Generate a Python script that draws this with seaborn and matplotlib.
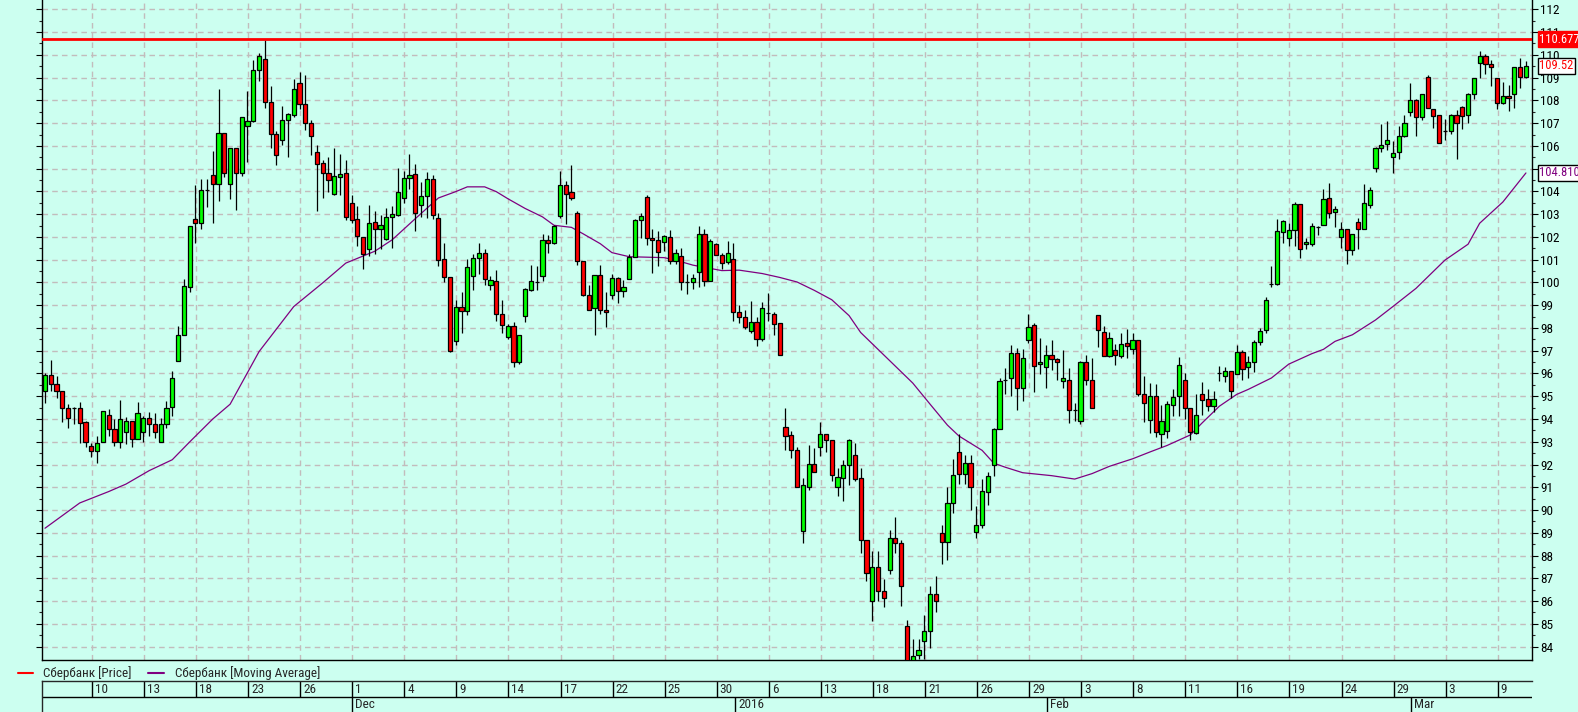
import matplotlib
matplotlib.use('Agg')
import matplotlib.pyplot as plt
import matplotlib.transforms as mtransforms
from matplotlib import font_manager
from matplotlib.lines import Line2D
import seaborn as sns
import numpy as np

# ---- data ----
opens = [95.24, 95.95, 95.54, 95.24, 94.50, 94.50, 94.47, 93.88, 92.80, 92.58,
         92.99, 94.19, 93.54, 92.99, 93.41, 93.91, 93.13, 93.41, 94.06, 93.80,
         92.99, 93.80, 94.54, 96.54, 97.70, 99.79, 102.77, 102.60, 104.05, 104.71,
         104.31, 106.56, 104.34, 105.90, 104.79, 106.86, 107.08, 109.32, 109.80, 107.95,
         106.54, 106.27, 107.12, 107.34, 108.75, 107.82, 107.02, 105.71, 105.25, 104.79,
         103.90, 104.62, 104.81, 103.47, 102.79, 102.01, 101.49, 102.64, 102.33, 101.90,
         102.86, 102.97, 103.70, 104.60, 104.77, 103.40, 103.81, 104.53, 102.83, 101.01,
         100.22, 97.44, 98.91, 98.76, 100.29, 101.09, 101.31, 99.87, 100.05, 98.61,
         97.59, 98.07, 96.50, 98.52, 99.68, 100.03, 100.27, 101.85, 101.72, 102.94,
         104.27, 103.96, 103.05, 100.92, 99.44, 98.89, 100.31, 98.81, 99.46, 100.18,
         99.61, 100.13, 101.13, 102.75, 103.75, 101.96, 101.85, 101.79, 102.01, 100.94,
         101.18, 100.03, 100.02, 100.48, 102.11, 100.07, 101.68, 101.20, 100.90, 101.01,
         98.68, 98.46, 97.87, 98.28, 97.50, 98.67, 98.63, 98.20, 93.64, 93.28,
         92.62, 89.10, 91.03, 92.01, 92.75, 93.32, 93.06, 90.99, 91.42, 91.99,
         92.43, 91.40, 88.68, 86.00, 87.51, 86.44, 87.38, 88.75, 88.57, 84.89,
         83.30, 83.65, 84.26, 84.67, 86.33, 88.97, 88.60, 90.31, 92.53, 91.60,
         92.06, 89.05, 89.33, 90.77, 91.97, 93.54, 95.72, 95.80, 96.91, 95.36,
         97.46, 98.11, 96.41, 96.28, 96.82, 96.63, 95.69, 95.72, 94.41, 93.89,
         96.50, 95.72, 98.55, 97.83, 96.78, 97.02, 96.78, 97.33, 97.06, 97.46,
         95.11, 93.97, 95.02, 93.36, 93.49, 94.62, 94.99, 95.71, 94.47, 93.40,
         95.11, 94.87, 94.56, 96.00, 95.91, 96.09, 95.98, 96.93, 96.28, 96.50,
         97.39, 97.89, 99.92, 99.92, 102.23, 101.96, 102.29, 103.44, 101.68, 101.68,
         102.42, 102.53, 103.71, 103.09, 101.99, 102.33, 101.44, 102.64, 102.36, 103.40,
         105.01, 105.90, 106.08, 105.51, 105.71, 106.45, 107.47, 108.00, 107.28, 109.02,
         107.64, 107.36, 106.67, 106.67, 107.36, 107.69, 107.36, 108.30, 109.63, 109.97,
         109.60, 108.97, 107.88, 108.21, 108.26, 109.45, 109.04]

highs = [96.04, 96.59, 95.89, 95.24, 94.65, 94.52, 94.74, 93.91, 92.95, 93.27,
         94.37, 94.43, 94.00, 94.84, 94.10, 93.91, 94.74, 94.13, 94.32, 94.28,
         94.04, 94.78, 96.13, 98.07, 100.16, 102.49, 104.27, 104.55, 104.55, 105.79,
         108.52, 106.56, 105.90, 105.90, 107.28, 108.43, 109.78, 110.08, 110.65, 108.65,
         106.64, 107.75, 107.45, 108.93, 109.24, 109.10, 107.12, 106.04, 105.38, 105.53,
         105.90, 105.64, 105.38, 103.86, 103.38, 102.01, 103.42, 103.16, 102.97, 103.29,
         103.34, 105.01, 104.90, 105.64, 105.19, 104.42, 104.84, 104.71, 103.05, 101.72,
         100.22, 99.24, 99.57, 101.03, 101.27, 101.74, 101.46, 100.29, 100.55, 99.24,
         98.17, 98.24, 97.70, 99.76, 100.76, 100.72, 102.14, 102.09, 102.53, 104.90,
         104.45, 105.14, 103.16, 100.92, 99.89, 100.31, 100.75, 99.57, 100.35, 100.26,
         100.11, 101.24, 102.79, 103.05, 103.84, 102.33, 102.24, 102.09, 102.31, 101.46,
         101.50, 100.35, 100.39, 102.46, 102.36, 101.90, 101.72, 101.31, 101.81, 101.72,
         99.00, 98.81, 99.20, 98.46, 99.16, 99.55, 98.72, 98.20, 94.50, 93.47,
         92.75, 91.42, 92.86, 92.73, 93.86, 93.32, 93.06, 91.84, 92.19, 93.12,
         92.93, 91.84, 88.68, 88.22, 88.18, 86.96, 89.14, 89.69, 88.68, 85.16,
         84.33, 84.33, 85.40, 86.64, 87.12, 89.36, 90.99, 92.25, 93.32, 92.43,
         92.43, 90.16, 91.36, 91.69, 93.60, 95.82, 96.22, 97.24, 97.13, 97.06,
         98.63, 98.20, 97.57, 97.24, 97.46, 96.69, 97.02, 96.22, 94.69, 96.54,
         96.83, 96.69, 98.55, 98.07, 97.83, 97.28, 97.80, 97.94, 97.80, 97.46,
         95.89, 95.58, 95.54, 94.62, 94.80, 95.30, 96.72, 96.04, 94.50, 95.08,
         95.61, 95.30, 95.21, 96.32, 96.28, 96.09, 97.24, 97.02, 96.78, 97.46,
         97.98, 99.37, 100.72, 102.79, 102.73, 102.60, 103.53, 103.44, 101.96, 102.60,
         102.47, 104.12, 104.36, 103.38, 102.66, 102.33, 102.11, 102.83, 104.32, 104.18,
         105.97, 106.95, 107.08, 106.21, 106.86, 107.36, 108.76, 108.06, 108.26, 109.13,
         107.64, 107.36, 107.19, 107.41, 107.56, 107.75, 108.34, 108.97, 110.15, 110.04,
         109.76, 108.97, 108.80, 108.67, 109.45, 109.85, 109.73]

lows = [94.69, 95.21, 94.93, 93.86, 93.62, 93.77, 92.93, 92.77, 92.34, 92.06,
        92.99, 93.27, 92.80, 92.71, 92.90, 92.77, 93.13, 92.99, 93.27, 93.17,
        92.99, 93.60, 94.13, 96.54, 97.70, 99.59, 101.74, 102.33, 103.31, 102.60,
        103.60, 104.64, 103.68, 103.20, 104.68, 105.27, 107.04, 108.86, 107.67, 105.90,
        105.18, 106.04, 105.49, 107.27, 107.64, 106.71, 105.60, 103.12, 103.73, 103.99,
        103.86, 103.86, 102.75, 102.60, 101.59, 100.61, 101.16, 101.24, 101.49, 101.85,
        101.53, 102.93, 103.49, 104.10, 102.27, 102.86, 102.83, 102.79, 100.72, 100.02,
        96.95, 97.24, 97.80, 98.57, 99.68, 100.39, 99.90, 99.65, 98.31, 97.80,
        97.50, 96.28, 96.41, 98.28, 99.61, 99.65, 100.05, 101.31, 101.68, 102.83,
        102.57, 103.62, 100.76, 99.41, 98.81, 97.67, 98.62, 98.06, 99.28, 99.09,
        99.35, 100.13, 101.13, 101.96, 101.64, 100.42, 100.72, 101.37, 100.83, 100.81,
        99.65, 99.50, 99.70, 99.78, 99.85, 100.07, 101.22, 100.61, 100.81, 98.31,
        98.22, 97.94, 97.80, 97.19, 97.43, 98.31, 97.67, 96.83, 92.65, 92.28,
        91.03, 88.55, 90.90, 91.69, 92.38, 92.53, 91.29, 90.62, 90.40, 91.08,
        91.27, 88.09, 86.90, 85.13, 86.00, 85.72, 87.20, 88.09, 85.78, 83.00,
        83.00, 83.45, 83.45, 83.93, 85.53, 87.62, 87.81, 89.88, 91.14, 91.14,
        89.99, 88.77, 89.23, 90.21, 91.51, 93.54, 95.11, 95.02, 94.38, 94.80,
        97.33, 95.17, 95.98, 95.36, 96.17, 95.73, 95.36, 93.82, 93.91, 93.76,
        95.48, 94.50, 97.15, 96.78, 96.72, 96.39, 96.69, 96.69, 96.87, 95.02,
        93.88, 93.39, 93.23, 92.77, 93.17, 94.13, 94.13, 94.00, 93.08, 93.36,
        94.19, 94.37, 94.32, 95.67, 95.61, 94.93, 95.98, 95.73, 95.82, 96.08,
        97.24, 97.76, 99.79, 99.87, 101.74, 101.59, 101.62, 101.07, 101.49, 101.62,
        102.09, 102.53, 102.85, 102.42, 101.53, 100.81, 101.22, 101.49, 102.36, 103.29,
        104.86, 105.75, 105.84, 104.82, 105.43, 106.40, 107.32, 106.45, 107.15, 107.65,
        106.77, 106.12, 106.25, 106.53, 105.43, 106.73, 106.99, 108.06, 108.99, 109.17,
        108.62, 107.64, 107.82, 107.52, 107.67, 108.56, 108.99]

closes = [95.95, 95.52, 95.24, 94.50, 94.06, 94.50, 93.82, 92.99, 92.58, 92.93,
          94.34, 93.54, 92.99, 93.99, 93.91, 93.13, 94.28, 94.06, 93.80, 93.41,
          93.80, 94.50, 95.80, 97.70, 99.83, 102.49, 102.60, 104.05, 104.05, 104.31,
          106.56, 104.82, 105.90, 104.79, 107.28, 107.08, 109.32, 109.97, 107.95, 106.54,
          105.58, 107.12, 107.40, 108.49, 107.82, 107.02, 106.43, 105.21, 104.82, 104.51,
          104.68, 104.77, 102.88, 102.75, 102.05, 101.27, 102.59, 102.33, 102.51, 102.86,
          102.99, 103.99, 104.57, 104.71, 103.03, 103.79, 104.53, 102.97, 101.00, 100.22,
          97.00, 98.91, 98.76, 100.66, 101.09, 101.31, 100.15, 100.09, 98.63, 98.15,
          98.07, 96.50, 97.70, 99.70, 100.05, 100.03, 101.85, 101.72, 102.46, 104.27,
          103.90, 103.73, 100.92, 99.46, 98.81, 100.31, 98.81, 98.72, 100.18, 99.61,
          99.78, 101.13, 102.73, 102.94, 101.96, 101.85, 101.35, 102.03, 100.94, 101.31,
          100.00, 100.03, 100.18, 102.14, 100.07, 101.81, 101.22, 100.87, 101.29, 98.72,
          98.46, 98.02, 98.28, 97.50, 98.89, 98.67, 98.17, 96.83, 93.27, 92.62,
          91.03, 91.08, 92.01, 91.69, 93.32, 93.06, 91.53, 91.45, 91.97, 93.06,
          91.38, 88.68, 87.25, 87.48, 86.42, 86.14, 88.75, 88.57, 86.68, 83.30,
          83.60, 83.83, 84.67, 86.33, 86.00, 88.60, 90.31, 91.53, 91.60, 92.06,
          90.99, 89.33, 90.82, 91.51, 93.54, 95.69, 95.72, 96.91, 95.36, 96.69,
          98.06, 96.35, 96.50, 96.82, 96.63, 96.50, 95.80, 94.41, 94.41, 96.50,
          95.72, 94.50, 97.89, 96.78, 97.57, 96.83, 97.28, 97.19, 97.46, 95.11,
          94.69, 95.02, 93.41, 93.91, 94.65, 94.97, 96.37, 94.47, 93.45, 94.19,
          94.84, 94.56, 94.87, 96.00, 96.09, 95.24, 96.93, 96.21, 96.50, 97.37,
          97.85, 99.22, 99.92, 102.25, 102.68, 102.29, 103.44, 101.49, 101.79, 102.46,
          102.42, 103.66, 103.07, 103.22, 102.33, 101.44, 102.11, 102.33, 103.47, 104.05,
          105.90, 106.06, 106.25, 105.67, 106.45, 106.99, 108.02, 107.28, 108.26, 107.65,
          107.32, 106.12, 106.67, 107.36, 106.99, 107.32, 108.30, 108.97, 109.97, 109.60,
          109.45, 107.88, 108.21, 108.12, 109.45, 109.04, 109.52]

# moving average, sampled along the curve (bar index -> value)
ma_idx = [0, 6, 11, 14, 18, 22, 25, 29, 32, 37, 43, 48, 52, 57, 60, 64, 68, 71, 73, 76,
          78, 80, 83, 86, 88, 91, 93, 96, 98, 101, 107, 109, 112, 117, 120, 124, 127, 130,
          133, 136, 139, 141, 144, 147, 150, 153, 156, 158, 162, 164, 166, 169, 174, 178,
          181, 184, 188, 191, 194, 198, 200, 203, 206, 208, 212, 215, 219, 221, 223, 226,
          230, 233, 237, 242, 246, 248, 252, 256]
ma_vals = [89.20, 90.31, 90.81, 91.14, 91.73, 92.21, 92.99, 94.00, 94.65, 96.96, 98.94,
           99.98, 100.85, 101.37, 101.87, 102.80, 103.71, 103.99, 104.20, 104.20, 103.99,
           103.68, 103.25, 102.88, 102.51, 102.42, 102.14, 101.70, 101.31, 101.13, 101.09,
           100.98, 100.76, 100.52, 100.54, 100.39, 100.22, 100.02, 99.65, 99.24, 98.54,
           97.80, 97.06, 96.32, 95.58, 94.65, 93.73, 93.25, 92.62, 92.06, 91.88, 91.64,
           91.51, 91.36, 91.60, 91.92, 92.25, 92.55, 92.84, 93.30, 93.82, 94.56, 95.08,
           95.30, 95.80, 96.41, 96.87, 97.06, 97.41, 97.70, 98.35, 98.94, 99.74, 100.98,
           101.68, 102.60, 103.53, 104.81]

price_line = 110.677
last_price = 109.52
last_ma = 104.810

day_labels = ['10', '13', '18', '23', '26', '1', '4', '9', '14', '17', '22', '25', '30',
              '6', '13', '18', '21', '26', '29', '3', '8', '11', '16', '19', '24', '29',
              '3', '9']
month_labels = ['Dec', '2016', 'Feb', 'Mar']
month_idx = [53.1, 119.3, 173.2, 236.1]

legend_labels = ['Сбербанк [Price]', 'Сбербанк [Moving Average]']

# ---- style ----
BG = '#CCFFF0'
GREEN = '#00FF00'
RED = '#FF0000'
PURPLE = '#800080'
GRID = '#C2BCBC'

sns.set_style('white')
# pick a narrow face if one is installed (the original uses a condensed UI font)
installed = {f.name for f in font_manager.fontManager.ttflist}
families = [f for f in ['Liberation Sans Narrow', 'DejaVu Sans Condensed', 'Roboto Condensed']
            if f in installed]
plt.rcParams['font.family'] = families + ['Liberation Sans', 'DejaVu Sans']
narrow = bool(families)
FS = 9.5 if narrow else 8.5

W, H = 1578, 712
fig = plt.figure(figsize=(W / 100, H / 100), dpi=100, facecolor=BG)

L_PX, R_PX, TOP_PX, BOT_PX = 42, 1532, 0, 660
ax = fig.add_axes([L_PX / W, 1 - BOT_PX / H, (R_PX - L_PX) / W, (BOT_PX - TOP_PX) / H])
ax.set_facecolor(BG)

n = len(opens)
x = np.arange(n)
o = np.array(opens)
c = np.array(closes)

XMIN, XMAX = -0.52, 257.05
ax.set_xlim(XMIN, XMAX)
ax.set_ylim(83.41, 112.41)

# grid
first_tick, step = 8.12, 9
tick_pos = [first_tick + step * k for k in range(len(day_labels))]
ax.set_xticks(tick_pos)
ax.set_yticks(range(84, 113))
ax.set_yticks(np.arange(84.5, 112.5, 1), minor=True)
ax.grid(True, which='major', color=GRID, linestyle=(0, (4, 3)), linewidth=1, zorder=0)
ax.set_axisbelow(True)

# moving average
sns.lineplot(x=ma_idx, y=ma_vals, ax=ax, color=PURPLE, linewidth=0.9, zorder=3,
             legend=False)

# candles
ax.vlines(x, lows, highs, color='black', linewidth=0.9, zorder=4)
body_col = np.where(c > o, GREEN, RED)
ax.bar(x, np.abs(c - o), bottom=np.minimum(o, c), width=0.72, color=body_col,
       edgecolor='black', linewidth=0.9, zorder=5)

# highest price line
ax.axhline(price_line, color=RED, linewidth=2, zorder=6)

# axes cosmetics
ax.spines['top'].set_visible(False)
for s in ['left', 'right', 'bottom']:
    ax.spines[s].set_color('black')
    ax.spines[s].set_linewidth(1.0)
ax.yaxis.set_ticks_position('both')
ax.tick_params(axis='y', which='major', direction='out', length=4.5, width=0.8,
               labelleft=False, labelright=True, labelsize=FS, pad=1.5, colors='black')
ax.tick_params(axis='y', which='minor', direction='out', length=2.5, width=0.8,
               left=True, right=True)
ax.tick_params(axis='x', which='major', direction='in', length=3, width=0.8,
               labelbottom=False, top=False)
ax.set_xlabel('')
ax.set_ylabel('')

# value tags on the right
tr = mtransforms.blended_transform_factory(ax.transAxes, ax.transData)
tag_fs = FS - 0.5
ax.text(1.005, price_line, '110.677', transform=tr, ha='left', va='center',
        color='white', fontsize=tag_fs, clip_on=False, zorder=10,
        bbox=dict(boxstyle='square,pad=0.12', fc=RED, ec=RED))
ax.text(1.005, last_price, '109.52', transform=tr, ha='left', va='center',
        color=RED, fontsize=tag_fs, clip_on=False, zorder=10,
        bbox=dict(boxstyle='square,pad=0.12', fc='white', ec='black', lw=1))
ax.text(1.005, last_ma, '104.810', transform=tr, ha='left', va='center',
        color=PURPLE, fontsize=tag_fs, clip_on=False, zorder=10,
        bbox=dict(boxstyle='square,pad=0.12', fc='white', ec='black', lw=1))

# ---- date bar ----
DB_TOP = 681
ax2 = fig.add_axes([L_PX / W, 0, (R_PX - L_PX) / W, (H - DB_TOP) / H])
ax2.set_facecolor(BG)
ax2.set_xlim(XMIN, XMAX)
ax2.set_ylim(0, 2)
ax2.set_xticks([])
ax2.set_yticks([])
ax2.spines['right'].set_visible(False)
ax2.spines['bottom'].set_visible(False)
ax2.spines['top'].set_linewidth(1.0)
ax2.spines['left'].set_linewidth(1.0)
ax2.axhline(1, color='black', linewidth=1.0)
ax2.vlines(tick_pos, 1, 2, color='black', linewidth=1.0)
ax2.vlines(month_idx, 0, 1, color='black', linewidth=1.0)
lab_tr = mtransforms.offset_copy(ax2.transData, fig=fig, x=3, y=0, units='dots')
for p, t in zip(tick_pos, day_labels):
    ax2.text(p, 1.47, t, transform=lab_tr, ha='left', va='center', fontsize=FS)
for p, t in zip(month_idx, month_labels):
    ax2.text(p, 0.47, t, transform=lab_tr, ha='left', va='center', fontsize=FS)

# ---- legend row ----
ly = 1 - 673 / H
fig.add_artist(Line2D([18 / W, 33 / W], [ly, ly], transform=fig.transFigure,
                      color=RED, linewidth=1.5))
fig.text(43 / W, ly, legend_labels[0], ha='left', va='center', fontsize=FS)
fig.add_artist(Line2D([148 / W, 164 / W], [ly, ly], transform=fig.transFigure,
                      color=PURPLE, linewidth=1.5))
fig.text(175 / W, ly, legend_labels[1], ha='left', va='center', fontsize=FS)

fig.savefig('out.png', dpi=100, facecolor=BG)
